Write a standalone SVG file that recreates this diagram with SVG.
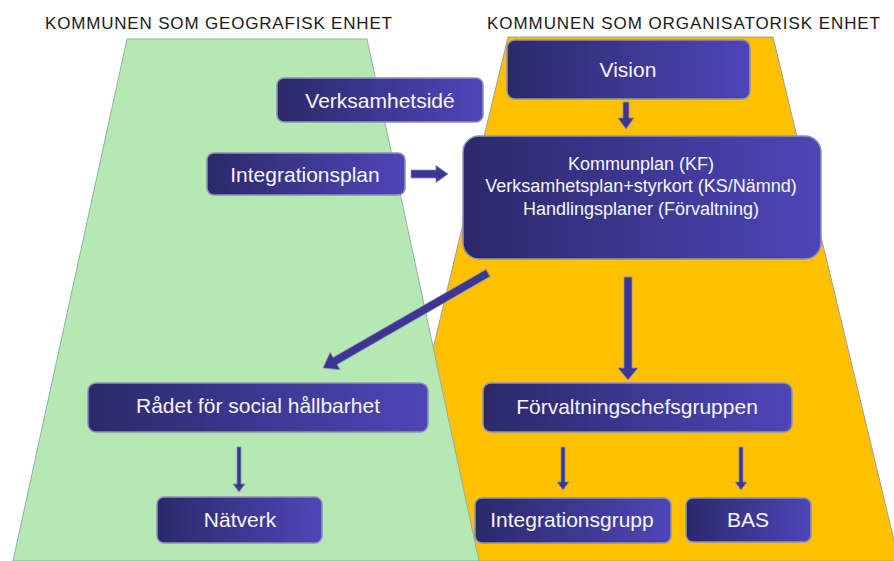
<svg xmlns="http://www.w3.org/2000/svg" width="894" height="561" viewBox="0 0 894 561">
<style>
.title{font-family:"Liberation Sans",Arial,sans-serif;font-size:17px;fill:#1a1a1a}
.box{fill:url(#boxg);stroke:#8d93b5;stroke-width:1.5}
.lbl{font-family:"Liberation Sans",Arial,sans-serif;font-size:21px;fill:#f6f6ff;text-anchor:middle}
.sm{font-family:"Liberation Sans",Arial,sans-serif;font-size:18px;fill:#f6f6ff;text-anchor:middle}
.arr{fill:#3d3594;stroke:#8a90b5;stroke-width:0.8}
</style>
<defs>
<linearGradient id="boxg" x1="0" y1="0" x2="1" y2="0">
<stop offset="0" stop-color="#2b296a"/>
<stop offset="1" stop-color="#4e46b8"/>
</linearGradient>
</defs>
<rect width="894" height="561" fill="#ffffff"/>
<g id="background">
<polygon points="508,37 773,37 899,561 382,561" fill="#ffc000" stroke="#9aa0a0" stroke-width="1"/>
<polygon points="127,39 367,39 479,561 13,561" fill="#b5e8b3" stroke="#8fb0a8" stroke-width="1"/>
</g>
<g id="titles">
<text class="title" x="45" y="29" textLength="347" lengthAdjust="spacing">KOMMUNEN SOM GEOGRAFISK ENHET</text>
<text class="title" x="487" y="29" textLength="393" lengthAdjust="spacing">KOMMUNEN SOM ORGANISATORISK ENHET</text>
</g>
<g id="connectors">
<polygon class="arr" points="623,102 629,102 629,118 634,118 626,129 618,118 623,118"/>
<polygon class="arr" points="411,170 436,170 436,165.5 448,174 436,182.5 436,178 411,178"/>
<polygon class="arr" points="624,277 632,277 632,368 638,368 628,380 618,368 624,368"/>
<polygon class="arr" points="486,269.5 333.1,357.5 330.1,352.4 323,368 340.1,369.7 337.1,364.5 490,276.5"/>
<polygon class="arr" points="237,447 241,447 241,484 245,484 239,492 233,484 237,484"/>
<polygon class="arr" points="561,447 565,447 565,482 569,482 563,490 557,482 561,482"/>
<polygon class="arr" points="739,447 743,447 743,482 747,482 741,490 735,482 739,482"/>
</g>
<g id="vision">
<rect class="box" x="507" y="40" width="243" height="59" rx="8"/>
<text class="lbl" x="628" y="76.5">Vision</text>
</g>
<g id="verksamhetside">
<rect class="box" x="277" y="78" width="206" height="44" rx="7"/>
<text class="lbl" x="380" y="107.5">Verksamhetsidé</text>
</g>
<g id="integrationsplan">
<rect class="box" x="207" y="153" width="198" height="42" rx="7"/>
<text class="lbl" x="305" y="181.5">Integrationsplan</text>
</g>
<g id="planer">
<rect class="box" x="463" y="136" width="358" height="123" rx="16"/>
<text class="sm" x="641" y="169.5">Kommunplan (KF)</text>
<text class="sm" x="641" y="192">Verksamhetsplan+styrkort (KS/Nämnd)</text>
<text class="sm" x="641" y="214.5">Handlingsplaner  (Förvaltning)</text>
</g>
<g id="radet">
<rect class="box" x="88" y="383" width="340" height="49" rx="8"/>
<text class="lbl" x="258" y="413">Rådet för social hållbarhet</text>
</g>
<g id="forvaltningschefsgruppen">
<rect class="box" x="483" y="383" width="309" height="49" rx="8"/>
<text class="lbl" x="637" y="414">Förvaltningschefsgruppen</text>
</g>
<g id="natverk">
<rect class="box" x="157" y="497" width="165" height="46" rx="7"/>
<text class="lbl" x="240" y="527">Nätverk</text>
</g>
<g id="integrationsgrupp">
<rect class="box" x="475" y="498" width="196" height="45" rx="7"/>
<text class="lbl" x="572" y="527">Integrationsgrupp</text>
</g>
<g id="bas">
<rect class="box" x="686" y="498" width="125" height="44" rx="7"/>
<text class="lbl" x="748" y="527">BAS</text>
</g>
</svg>
